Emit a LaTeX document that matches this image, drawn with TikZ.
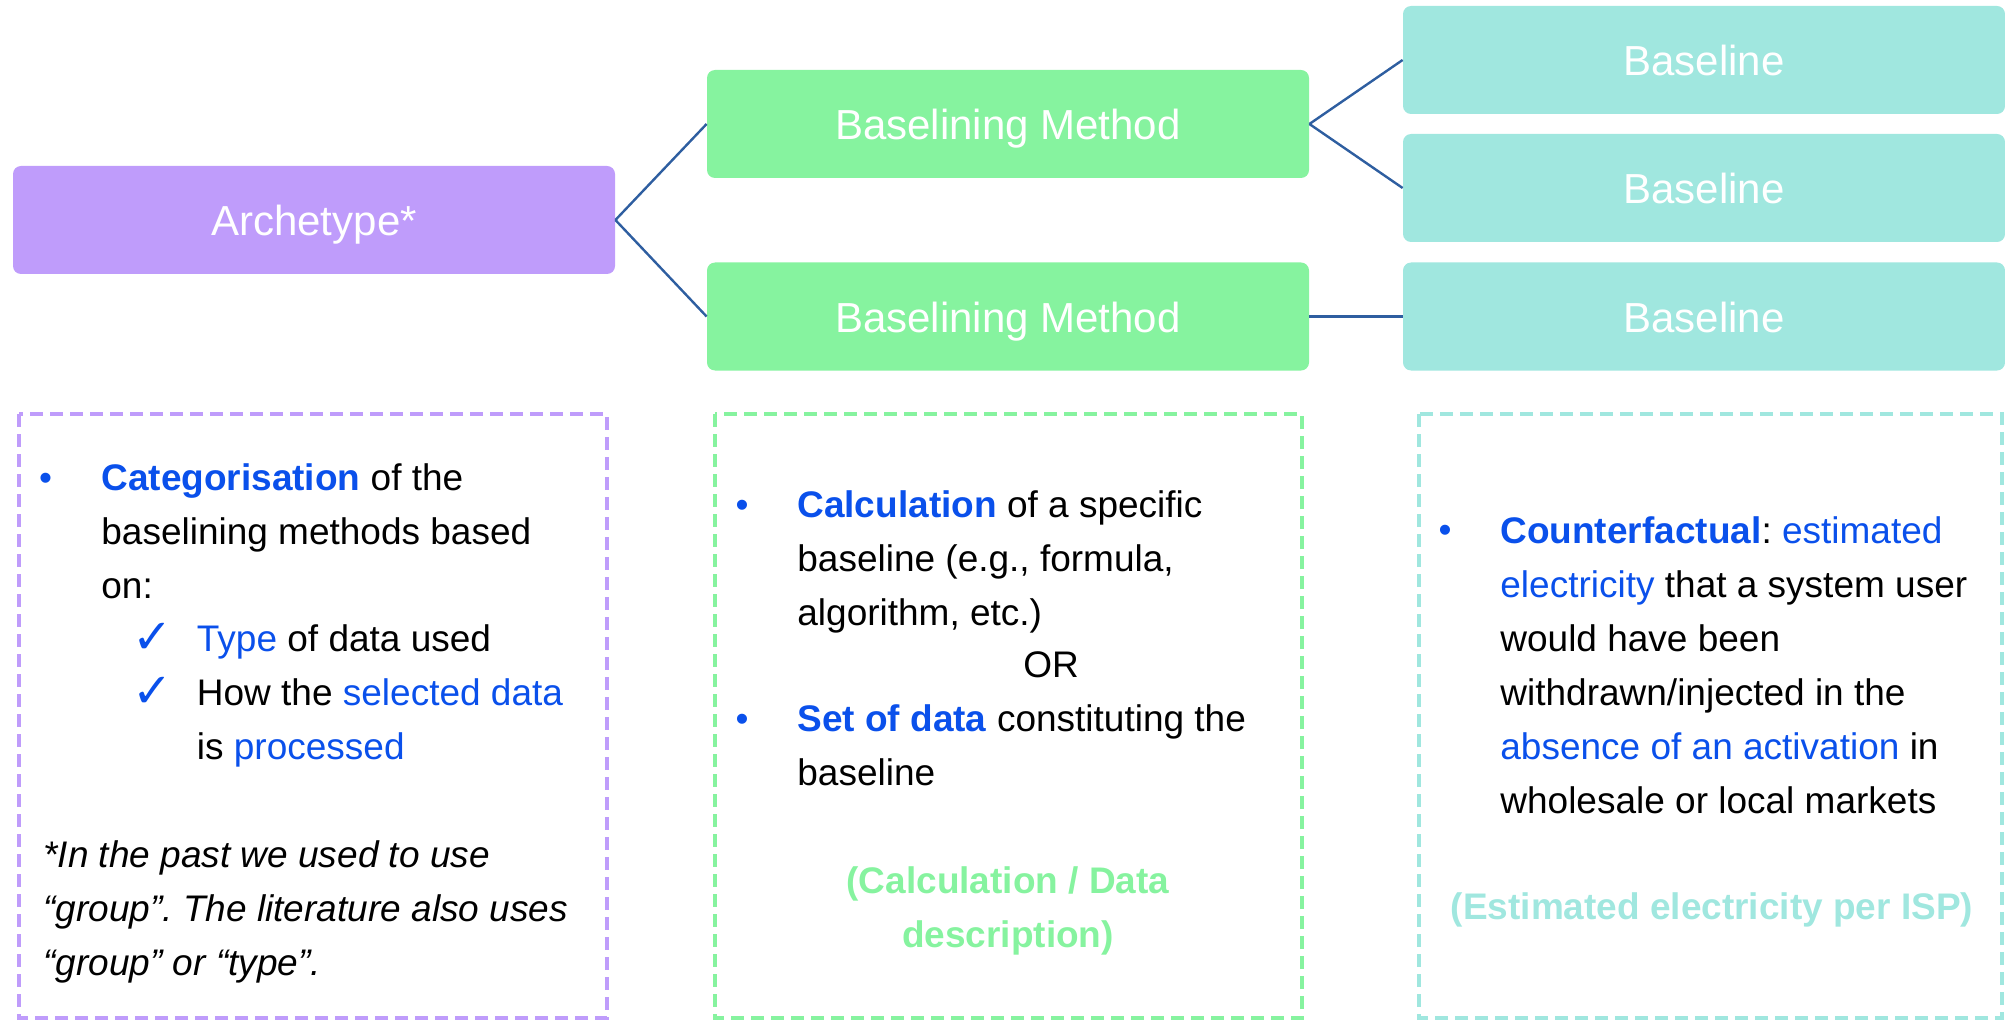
\documentclass[tikz,border=0pt]{standalone}
\usepackage{fontspec}
\setmainfont{Liberation Sans}
\newfontfamily\symfont{DejaVu Sans}
\usetikzlibrary{positioning}
\definecolor{archpurple}{RGB}{191,156,251}
\definecolor{methgreen}{RGB}{134,243,159}
\definecolor{basecyan}{RGB}{160,231,223}
\definecolor{linkblue}{RGB}{46,94,160}
\definecolor{keyblue}{RGB}{10,80,235}
\newcommand{\kw}[1]{\textcolor{keyblue}{\textbf{#1}}}
\newcommand{\blu}[1]{\textcolor{keyblue}{#1}}
\frenchspacing
\begin{document}
\begin{tikzpicture}[x=0.5pt,y=-0.5pt,
    topbox/.style={rectangle,rounded corners=4pt,minimum width=301pt,minimum height=54pt,
      inner sep=0pt,text height=18pt,text depth=2.3pt,text=white,font=\fontsize{21}{25}\selectfont},
    dashbox/.style={line width=2.2pt,dash pattern=on 6.5pt off 3.5pt},
    bodytext/.style={anchor=north west,inner sep=0pt,align=left,font=\fontsize{18.5}{27}\selectfont},
    bulletmark/.style={anchor=base,inner sep=0pt,text=keyblue,font=\fontsize{18.5}{27}\selectfont},
    checkmark/.style={anchor=base,inner sep=0pt,text=keyblue,font=\symfont\bfseries\fontsize{24}{27}\selectfont},
    link/.style={draw=linkblue,line width=1.2pt}]
    \useasboundingbox (0,0) rectangle (2005,1021);

    % Top row of boxes
    \node[topbox,fill=archpurple] (archetype) at (314,220) {Archetype*};
    \node[topbox,fill=methgreen] (method1) at (1008,124) {Baselining Method};
    \node[topbox,fill=methgreen] (method2) at (1008,316.5) {Baselining Method};
    \node[topbox,fill=basecyan] (baseline1) at (1704,60) {Baseline};
    \node[topbox,fill=basecyan] (baseline2) at (1704,188) {Baseline};
    \node[topbox,fill=basecyan] (baseline3) at (1704,316.5) {Baseline};

    \draw[link] (archetype.east) -- (method1.west);
    \draw[link] (archetype.east) -- (method2.west);
    \draw[link] (method1.east) -- (baseline1.west);
    \draw[link] (method1.east) -- (baseline2.west);
    \draw[link] (method2.east) -- (baseline3.west);

    % Dashed description panels
    \draw[dashbox,draw=archpurple] (19,414) rectangle (607,1018);
    \draw[dashbox,draw=methgreen] (715,414) rectangle (1302,1018);
    \draw[dashbox,draw=basecyan] (1419,414) rectangle (2002,1018);

    % Archetype description
    \node[bulletmark] (arch_bullet) at (45.5,490) {•};
    \node[bodytext] (arch_text) at (101,452.2)
        {\strut\kw{Categorisation} of the\\baselining methods based\\on:};
    \node[checkmark] (arch_check1) at (153,653) {✓};
    \node[checkmark] (arch_check2) at (153,707) {✓};
    \node[bodytext] (arch_items) at (196.5,613.2)
        {\strut\blu{Type} of data used\\How the \blu{selected data}\\is \blu{processed}};
    \node[bodytext,font=\fontsize{18.5}{27}\selectfont\itshape] (arch_note) at (43,829.2)
        {\strut*In the past we used to use\\“group”. The literature also uses\\“group” or “type”.};

    % Method description
    \node[bulletmark] (meth_bullet1) at (742,517) {•};
    \node[bodytext] (meth_text1) at (797,479.2)
        {\strut\kw{Calculation} of a specific\\baseline (e.g., formula,\\algorithm, etc.)};
    \node[bulletmark,text=black] (meth_or) at (1051,677) {OR};
    \node[bulletmark] (meth_bullet2) at (742,731) {•};
    \node[bodytext] (meth_text2) at (797,693.2)
        {\strut\kw{Set of data} constituting the\\baseline};
    \node[anchor=north,inner sep=0pt,align=center,text=methgreen,
        font=\fontsize{18.5}{27}\selectfont\bfseries] (meth_note) at (1008,855.2)
        {\strut(Calculation / Data\\description)};

    % Baseline description
    \node[bulletmark] (base_bullet) at (1445,542.6) {•};
    \node[bodytext] (base_text) at (1500,504.8)
        {\strut\kw{Counterfactual}: \blu{estimated}\\\blu{electricity} that a system user\\would have been\\withdrawn/injected in the\\\blu{absence of an activation} in\\wholesale or local markets};
    \node[bulletmark,text=basecyan,font=\fontsize{18.5}{27}\selectfont\bfseries] (base_note) at (1712,919)
        {(Estimated electricity per ISP)};
\end{tikzpicture}
\end{document}
